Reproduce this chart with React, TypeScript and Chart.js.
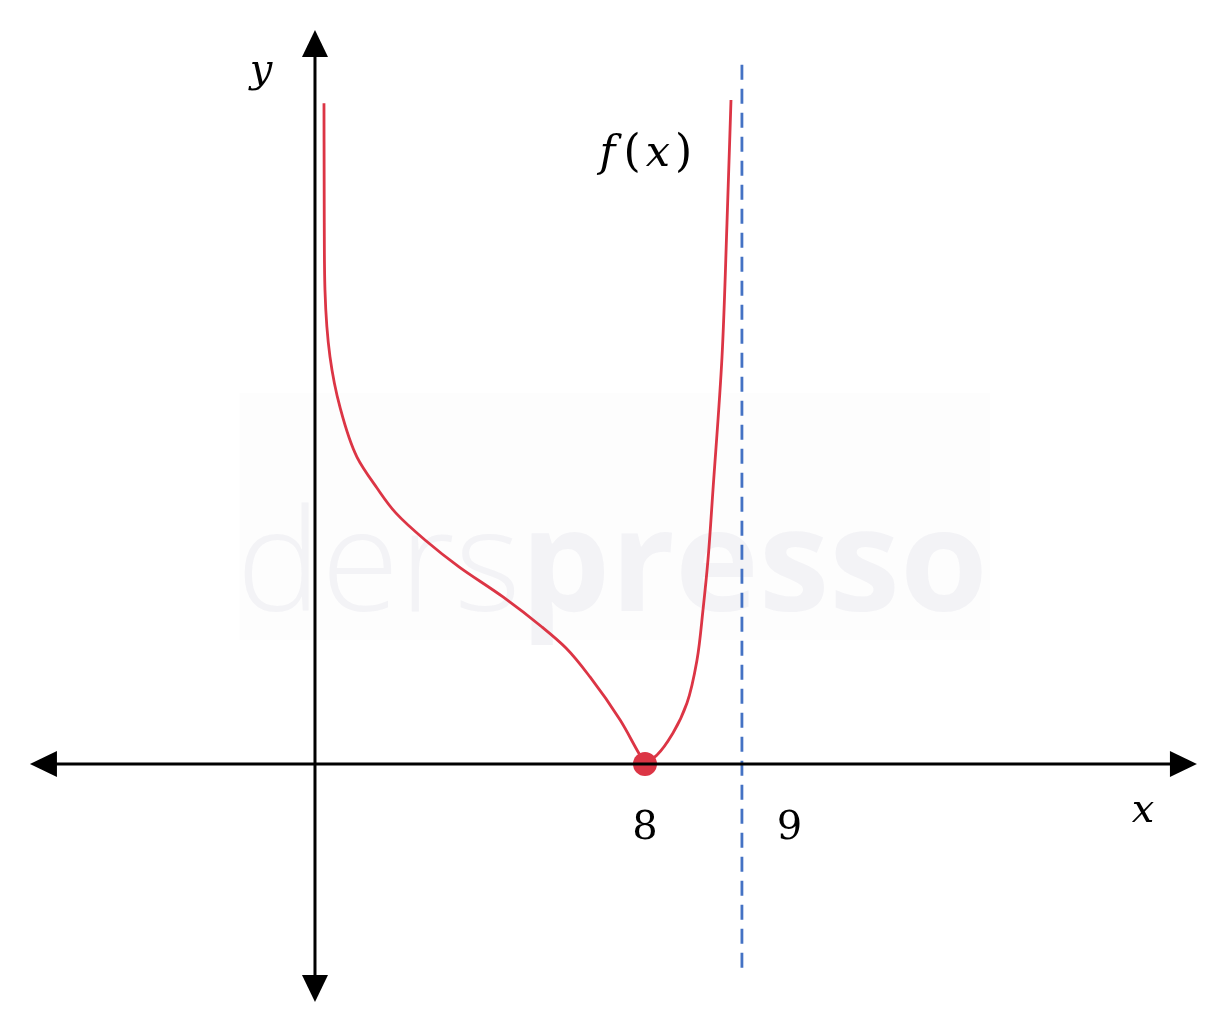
import React, { useEffect, useRef } from "react";
import { Chart, registerables } from "chart.js";

Chart.register(...registerables);

// Schematic data (x, y)
const leftBranchX = [0.218, 0.225, 0.242, 0.364, 0.606, 1.018, 1.503, 1.964, 2.667, 3.491, 4.558, 5.503, 6.085, 6.667, 7.394, 7.806, 8.0];
const leftBranchY = [16.02, 13.12, 11.49, 9.87, 8.65, 7.44, 6.69, 6.08, 5.43, 4.78, 4.05, 3.32, 2.81, 2.11, 1.07, 0.34, 0.0];
const rightBranchX = [8.0, 8.291, 8.679, 9.018, 9.261, 9.406, 9.527, 9.648, 9.867, 9.988, 10.085];
const rightBranchY = [0.0, 0.218, 0.752, 1.479, 2.521, 3.733, 4.945, 6.642, 9.867, 13.115, 16.097];
const markedPointX = [8];
const markedPointY = [0];
const asymptoteX = 10.35;
const asymptoteYRange = [-4.99, 16.95];
const tickLabels = ["8", "9"];
const tickLabelX = [8, 11.5];
const axisXRange = [-6.91, 21.38];
const axisYRange = [-5.77, 17.79];
const X_MIN = -7.636;
const X_MAX = 22.085;
const Y_MIN = -6.473;
const Y_MAX = 18.52;

const RED = "#dc3545";
const BLUE = "#4472c4";

const zip = (xs: number[], ys: number[]) => xs.map((x, i) => ({ x, y: ys[i] }));

const diagramPlugin = {
  id: "diagram",
  beforeDraw(chart: any) {
    const ctx = chart.ctx;
    const xs = chart.scales.x;
    const ys = chart.scales.y;
    ctx.save();
    ctx.fillStyle = "#ffffff";
    ctx.fillRect(0, 0, chart.width, chart.height);
    // watermark
    const wx0 = xs.getPixelForValue(-1.83);
    const wy0 = ys.getPixelForValue(9.0);
    const wx1 = xs.getPixelForValue(16.36);
    const wy1 = ys.getPixelForValue(3.0);
    ctx.fillStyle = "#fdfdfd";
    ctx.fillRect(wx0, wy0, wx1 - wx0, wy1 - wy0);
    ctx.textBaseline = "alphabetic";
    ctx.textAlign = "left";
    ctx.fillStyle = "#f3f3f6";
    const base = ys.getPixelForValue(3.7);
    ctx.font = "300 142px 'Open Sans'";
    const wStart = xs.getPixelForValue(-1.9);
    ctx.fillText("ders", wStart, base);
    const w1 = ctx.measureText("ders").width;
    ctx.font = "700 142px 'Open Sans'";
    ctx.fillText("presso", wStart + w1, base);
    ctx.restore();
  },
  afterDatasetsDraw(chart: any) {
    const ctx = chart.ctx;
    const xs = chart.scales.x;
    const ys = chart.scales.y;
    const ox = xs.getPixelForValue(0);
    const oy = ys.getPixelForValue(0);
    ctx.save();
    // dashed asymptote
    ctx.strokeStyle = BLUE;
    ctx.lineWidth = 2.8;
    ctx.setLineDash([15, 9]);
    const ax = xs.getPixelForValue(asymptoteX);
    ctx.beginPath();
    ctx.moveTo(ax, ys.getPixelForValue(asymptoteYRange[1]));
    ctx.lineTo(ax, ys.getPixelForValue(asymptoteYRange[0]));
    ctx.stroke();
    ctx.setLineDash([]);
    // axes
    ctx.strokeStyle = "#000";
    ctx.fillStyle = "#000";
    ctx.lineWidth = 3;
    const xl = xs.getPixelForValue(axisXRange[0]);
    const xr = xs.getPixelForValue(axisXRange[1]);
    const yt = ys.getPixelForValue(axisYRange[1]);
    const yb = ys.getPixelForValue(axisYRange[0]);
    const head = 27;
    const half = 13;
    ctx.beginPath();
    ctx.moveTo(xl + head - 2, oy);
    ctx.lineTo(xr - head + 2, oy);
    ctx.moveTo(ox, yt + head - 2);
    ctx.lineTo(ox, yb - head + 2);
    ctx.stroke();
    const tri = (pts: number[][]) => {
      ctx.beginPath();
      ctx.moveTo(pts[0][0], pts[0][1]);
      ctx.lineTo(pts[1][0], pts[1][1]);
      ctx.lineTo(pts[2][0], pts[2][1]);
      ctx.closePath();
      ctx.fill();
    };
    tri([[xl, oy], [xl + head, oy - half], [xl + head, oy + half]]);
    tri([[xr, oy], [xr - head, oy - half], [xr - head, oy + half]]);
    tri([[ox, yt], [ox - half, yt + head], [ox + half, yt + head]]);
    tri([[ox, yb], [ox - half, yb - head], [ox + half, yb - head]]);
    // labels
    ctx.textAlign = "center";
    ctx.textBaseline = "alphabetic";
    ctx.font = "40px 'DejaVu Serif'";
    tickLabels.forEach((t, i) => {
      ctx.fillText(t, xs.getPixelForValue(tickLabelX[i]), oy + 75);
    });
    ctx.font = "italic 40px 'DejaVu Serif'";
    ctx.fillText("y", ox - 54, yt + 52);
    ctx.fillText("x", xr - 54, oy + 58);
    // f(x) drawn piecewise: italic letters, upright parentheses
    const fx = xs.getPixelForValue(6.9);
    const fy = ys.getPixelForValue(14.5);
    ctx.textAlign = "left";
    let cx = fx;
    const parts: [string, string, number][] = [
      ["f", "italic 43px 'DejaVu Serif'", 8],
      ["(", "44px 'DejaVu Serif'", 5],
      ["x", "italic 43px 'DejaVu Serif'", 5],
      [")", "44px 'DejaVu Serif'", 0],
    ];
    parts.forEach(([s, f, gap]) => {
      ctx.font = f;
      ctx.fillText(s, cx, fy);
      cx += ctx.measureText(s).width + gap;
    });
    ctx.restore();
  },
};

export default function App() {
  const ref = useRef<HTMLCanvasElement | null>(null);
  useEffect(() => {
    if (!ref.current) return;
    const chart = new Chart(ref.current, {
      type: "scatter",
      data: {
        datasets: [
          {
            data: zip(leftBranchX, leftBranchY),
            showLine: true,
            borderColor: RED,
            borderWidth: 2.8,
            pointRadius: 0,
            cubicInterpolationMode: "monotone",
          },
          {
            data: zip(rightBranchX, rightBranchY),
            showLine: true,
            borderColor: RED,
            borderWidth: 2.8,
            pointRadius: 0,
            cubicInterpolationMode: "monotone",
          },
          {
            data: zip(markedPointX, markedPointY),
            showLine: false,
            backgroundColor: RED,
            borderColor: RED,
            borderWidth: 0,
            pointRadius: 12,
          },
        ],
      } as any,
      options: {
        animation: false,
        responsive: false,
        indexAxis: "y",
        layout: { padding: 0, autoPadding: false },
        plugins: { legend: { display: false }, tooltip: { enabled: false } },
        scales: {
          x: { type: "linear", min: X_MIN, max: X_MAX, display: false },
          y: { type: "linear", min: Y_MIN, max: Y_MAX, display: false },
        },
      } as any,
      plugins: [diagramPlugin],
    });
    return () => chart.destroy();
  }, []);
  return (
    <div style={{ position: "fixed", left: 0, top: 0, width: 1226, height: 1031 }}>
      <canvas ref={ref} width={1226} height={1031} style={{ width: 1226, height: 1031 }} />
    </div>
  );
}
